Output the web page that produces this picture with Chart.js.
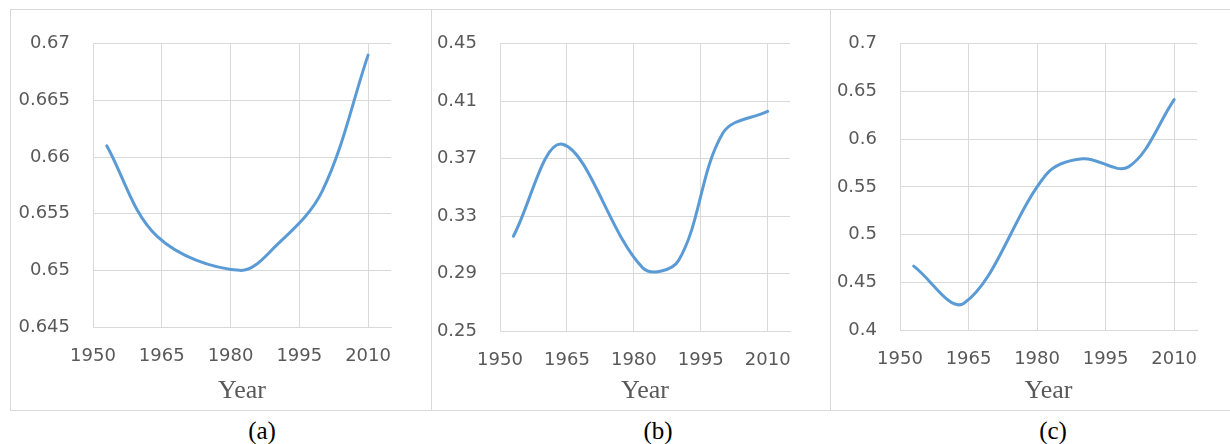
<!DOCTYPE html>
<html>
<head>
<meta charset="utf-8">
<script src="https://cdn.jsdelivr.net/npm/chart.js@4"></script>
<style>
  html, body { margin: 0; padding: 0; background: #fff; }
  #page { position: relative; width: 1230px; height: 444px; overflow: hidden; }
  .panel { position: absolute; top: 9px; height: 400px; border: 1px solid #d9d9d9; box-sizing: content-box; }
  .panel canvas { position: absolute; left: 0; top: 0; }
  .cap { position: absolute; top: 417px; font: 25px "Liberation Serif", "Times New Roman", serif; color: #000; transform: translateX(-50%); }
</style>
</head>
<body>
<div id="page">
  <div class="panel" style="left:10px;width:420px"><canvas id="chartA" width="420" height="400"></canvas></div>
  <div class="panel" style="left:430px;width:400px;border-left:none"><canvas id="chartB" width="400" height="400"></canvas></div>
  <div class="panel" style="left:831px;width:400px;border-left:none;border-right:none"><canvas id="chartC" width="400" height="400"></canvas></div>
  <div class="cap" style="left:262px">(a)</div>
  <div class="cap" style="left:658px">(b)</div>
  <div class="cap" style="left:1053px">(c)</div>
</div>
<script>
/* --------- データ --------- */
// 横軸（調査年）
const years = [1953, 1964, 1982, 1990, 2000, 2010];
const xTickRange = [1950, 2015, 15]; // 最小, 最大, 間隔

// 各パネルの値
const valuesA = [0.661, 0.653, 0.650, 0.6522, 0.657, 0.669];
const valuesB = [0.316, 0.380, 0.294, 0.299, 0.388, 0.403];
const valuesC = [0.467, 0.428, 0.563, 0.5795, 0.571, 0.6415];

// 縦軸の範囲
const yRangeA = [0.645, 0.67, 0.005];
const yRangeB = [0.25, 0.45, 0.04];
const yRangeC = [0.4, 0.7, 0.05];

/* --------- 共通 --------- */
const gridColor = "#d9d9d9";
const tickColor = "#595959";
const lineColor = "#5b9bd5";

// 描画範囲（キャンバス内の左・右・上・下）
function makeChart(id, values, yRange, area) {
  const canvas = document.getElementById(id);
  const W = canvas.width, H = canvas.height;
  return new Chart(canvas, {
    type: "line",
    data: {
      datasets: [{
        data: years.map((y, i) => ({ x: y, y: values[i] })),
        borderColor: lineColor,
        borderWidth: 3,
        borderCapStyle: "round",
        pointRadius: 0,
        tension: 0.35,
      }],
    },
    options: {
      responsive: false,
      animation: false,
      events: [],
      layout: { padding: { left: 0, top: area.top, right: W - area.right, bottom: 0 } },
      plugins: { legend: { display: false }, tooltip: { enabled: false } },
      scales: {
        x: {
          type: "linear",
          min: xTickRange[0],
          max: xTickRange[1],
          afterFit: (s) => { s.height = H - area.bottom; },
          ticks: {
            stepSize: xTickRange[2],
            includeBounds: false,
            color: tickColor,
            padding: 19,
            maxRotation: 0,
            font: { family: "DejaVu Sans", size: 18 },
            callback: (v) => String(v),
          },
          grid: { color: gridColor, drawTicks: false },
          border: { color: gridColor },
          title: {
            display: true,
            text: "Year",
            color: tickColor,
            font: { family: "Liberation Serif", size: 26 },
            padding: { top: 0, bottom: 3 },
          },
        },
        y: {
          min: yRange[0],
          max: yRange[1],
          afterFit: (s) => { s.width = area.left; },
          ticks: {
            stepSize: yRange[2],
            color: tickColor,
            padding: 23,
            font: { family: "DejaVu Sans", size: 18 },
            callback: (v) => String(parseFloat(v.toFixed(3))),
          },
          grid: { color: gridColor, drawTicks: false },
          border: { color: gridColor },
        },
      },
    },
  });
}

makeChart("chartA", valuesA, yRangeA, { left: 82, right: 380, top: 14, bottom: 317 });
makeChart("chartB", valuesB, yRangeB, { left: 70, right: 360, top: 14, bottom: 321 });
makeChart("chartC", valuesC, yRangeC, { left: 69, right: 366, top: 14, bottom: 320 });
</script>
</body>
</html>
